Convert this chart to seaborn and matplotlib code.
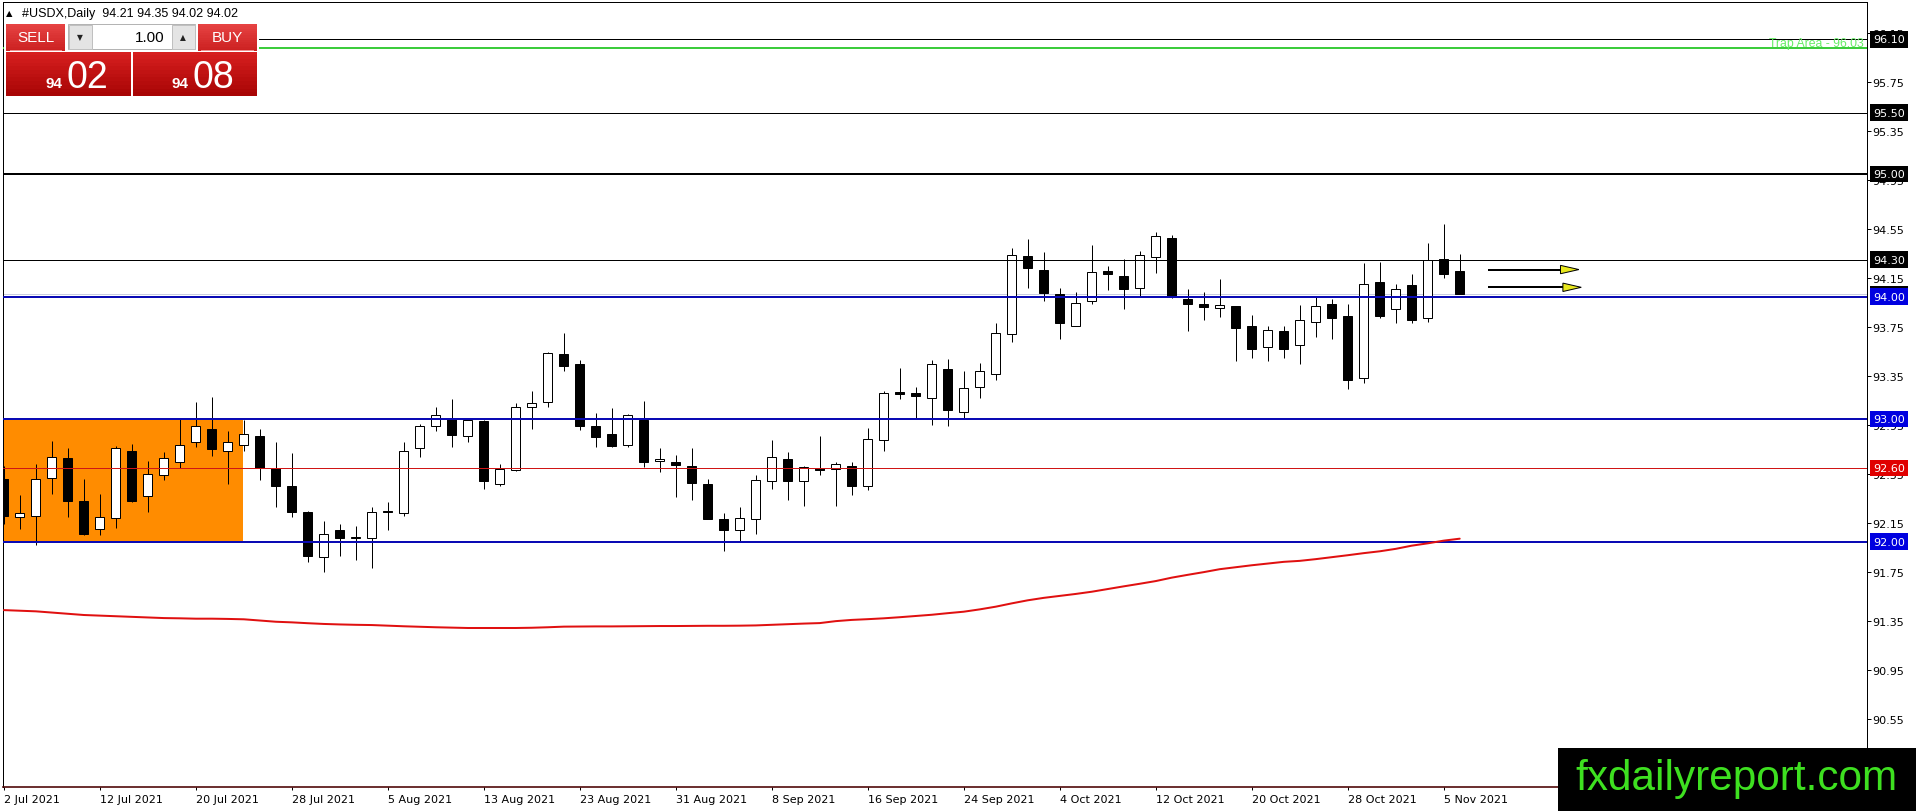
import numpy as np
import pandas as pd
import seaborn as sns
import matplotlib.pyplot as plt
from matplotlib.patches import Rectangle, Polygon
from matplotlib.transforms import blended_transform_factory

W, H = 1916, 812

# daily candles, 2 Jul 2021 .. 8 Nov 2021 (one per trading day)
opens = [92.51, 92.20, 92.21, 92.52, 92.68, 92.33, 92.10, 92.19, 92.74, 92.37,
         92.54, 92.65, 92.81, 92.92, 92.74, 92.79, 92.86, 92.60, 92.45, 92.24,
         91.87, 92.09, 92.03, 92.03, 92.245, 92.23, 92.76, 92.94, 93.01, 92.86,
         92.98, 92.47, 92.58, 93.095, 93.136, 93.53, 93.45, 92.94, 92.875, 92.79,
         92.99, 92.66, 92.65, 92.615, 92.47, 92.18, 92.095, 92.18, 92.49, 92.675,
         92.495, 92.60, 92.59, 92.615, 92.45, 92.825, 93.22, 93.215, 93.175, 93.405,
         93.055, 93.26, 93.365, 93.69, 94.33, 94.215, 94.02, 93.76, 93.96, 94.205,
         94.165, 94.07, 94.325, 94.48, 93.98, 93.94, 93.905, 93.92, 93.76, 93.585,
         93.715, 93.605, 93.79, 93.935, 93.84, 93.335, 94.12, 93.895, 94.095, 93.825,
         94.305, 94.21]
highs = [92.62, 92.38, 92.63, 92.82, 92.76, 92.51, 92.39, 92.78, 92.80, 92.66,
         92.73, 93.00, 93.14, 93.18, 92.90, 92.99, 92.92, 92.81, 92.72, 92.25,
         92.17, 92.14, 92.13, 92.28, 92.325, 92.81, 92.96, 93.10, 93.16, 93.00,
         92.99, 92.63, 93.13, 93.23, 93.545, 93.70, 93.48, 93.05, 93.09, 93.04,
         93.15, 92.76, 92.71, 92.76, 92.51, 92.23, 92.28, 92.54, 92.83, 92.73,
         92.615, 92.86, 92.65, 92.65, 92.93, 93.225, 93.415, 93.26, 93.48, 93.49,
         93.39, 93.455, 93.78, 94.40, 94.47, 94.36, 94.07, 94.035, 94.42, 94.25,
         94.305, 94.375, 94.53, 94.50, 94.06, 94.035, 94.145, 93.925, 93.85, 93.76,
         93.76, 93.93, 93.995, 93.98, 93.94, 94.275, 94.28, 94.10, 94.185, 94.435,
         94.59, 94.35]
lows = [92.14, 92.10, 91.97, 92.39, 92.20, 92.05, 92.05, 92.11, 92.32, 92.24,
        92.50, 92.60, 92.77, 92.70, 92.47, 92.74, 92.50, 92.28, 92.20, 91.83,
        91.75, 91.88, 91.85, 91.78, 92.09, 92.21, 92.69, 92.90, 92.77, 92.815,
        92.43, 92.45, 92.575, 92.92, 93.10, 93.39, 92.91, 92.775, 92.775, 92.77,
        92.605, 92.565, 92.365, 92.34, 92.18, 91.92, 92.00, 92.06, 92.43, 92.34,
        92.29, 92.54, 92.29, 92.38, 92.42, 92.735, 93.165, 93.00, 92.955, 92.945,
        93.005, 93.175, 93.32, 93.63, 94.07, 93.96, 93.65, 93.76, 93.935, 94.05,
        93.90, 94.00, 94.19, 93.985, 93.72, 93.81, 93.83, 93.47, 93.50, 93.47,
        93.50, 93.445, 93.67, 93.655, 93.245, 93.29, 93.825, 93.785, 93.785, 93.795,
        94.155, 94.02]
closes = [92.21, 92.23, 92.51, 92.69, 92.33, 92.06, 92.20, 92.76, 92.33, 92.55,
          92.68, 92.79, 92.94, 92.755, 92.81, 92.88, 92.60, 92.455, 92.24, 91.88,
          92.06, 92.03, 92.035, 92.24, 92.24, 92.74, 92.945, 93.03, 92.87, 92.99,
          92.49, 92.59, 93.10, 93.13, 93.54, 93.43, 92.945, 92.85, 92.78, 93.03,
          92.645, 92.67, 92.625, 92.475, 92.185, 92.09, 92.19, 92.50, 92.69, 92.49,
          92.605, 92.58, 92.63, 92.455, 92.84, 93.215, 93.205, 93.185, 93.445, 93.07,
          93.25, 93.39, 93.70, 94.34, 94.23, 94.03, 93.78, 93.945, 94.20, 94.18,
          94.065, 94.34, 94.49, 94.00, 93.94, 93.915, 93.93, 93.745, 93.57, 93.725,
          93.57, 93.81, 93.92, 93.825, 93.32, 94.10, 93.84, 94.065, 93.81, 94.30,
          94.185, 94.02]

# moving average (red curve), one value per candle
ma_values = [91.44, 91.435, 91.43, 91.42, 91.41, 91.40, 91.395, 91.39, 91.385, 91.38,
             91.375, 91.373, 91.37, 91.37, 91.368, 91.365, 91.355, 91.345, 91.34, 91.333,
             91.327, 91.323, 91.32, 91.318, 91.313, 91.308, 91.304, 91.30, 91.297, 91.294,
             91.294, 91.294, 91.294, 91.296, 91.30, 91.305, 91.306, 91.307, 91.307, 91.308,
             91.309, 91.31, 91.31, 91.311, 91.312, 91.312, 91.313, 91.315, 91.32, 91.325,
             91.33, 91.334, 91.35, 91.36, 91.366, 91.373, 91.382, 91.392, 91.402, 91.415,
             91.427, 91.446, 91.468, 91.495, 91.52, 91.54, 91.556, 91.572, 91.59, 91.612,
             91.634, 91.655, 91.677, 91.705, 91.728, 91.75, 91.774, 91.79, 91.806, 91.82,
             91.834, 91.842, 91.856, 91.872, 91.888, 91.905, 91.92, 91.94, 91.966, 91.985,
             92.007, 92.023]

date_labels = ['2 Jul 2021', '12 Jul 2021', '20 Jul 2021', '28 Jul 2021', '5 Aug 2021',
               '13 Aug 2021', '23 Aug 2021', '31 Aug 2021', '8 Sep 2021', '16 Sep 2021',
               '24 Sep 2021', '4 Oct 2021', '12 Oct 2021', '20 Oct 2021', '28 Oct 2021',
               '5 Nov 2021']
price_ticks = [96.15, 95.75, 95.35, 94.95, 94.55, 94.15, 93.75, 93.35, 92.95,
               92.55, 92.15, 91.75, 91.35, 90.95, 90.55]

black_levels = [96.10, 95.50, 95.00, 94.30]
blue_levels = [94.00, 93.00, 92.00]
red_level = 92.60
trap_level = 96.03
bid_price = 94.02
zone_low, zone_high = 92.00, 93.00
arrow_prices = [94.22, 94.075]

header = '#USDX,Daily  94.21 94.35 94.02 94.02'
sell_big, buy_big = '02', '08'
lot = '1.00'

# ---------------------------------------------------------------
sns.set_theme(style='white')
plt.rcParams['font.family'] = ['DejaVu Sans']

fig = plt.figure(figsize=(W / 100, H / 100), dpi=100)
fig.patch.set_facecolor('white')

ax_l, ax_r, ax_t, ax_b = 2.7, 1867.0, 2.7, 788.0
ax = fig.add_axes([ax_l / W, 1 - ax_b / H, (ax_r - ax_l) / W, (ax_b - ax_t) / H])
ax.set_facecolor('white')

px = 0.72  # one pixel in points
n = len(opens)
bars = np.arange(n)
bw = 0.5625

# orange zone (background object)
ax.add_patch(Rectangle((-5, zone_low), 5 + 14.97, zone_high - zone_low,
                       facecolor='#ff8c00', edgecolor='none', zorder=1))

# candles
ax.vlines(bars, lows, highs, color='black', lw=px, zorder=3)
for i in range(n):
    o, c = opens[i], closes[i]
    bottom = min(o, c)
    height = max(abs(c - o), 0.006)
    ax.add_patch(Rectangle((i - bw / 2, bottom), bw, height,
                           facecolor='white' if c >= o else 'black',
                           edgecolor='black', lw=px, zorder=4))

# horizontal levels
ax.axhline(bid_price, color='#c8cde0', lw=px, zorder=2)
for lv in black_levels:
    ax.axhline(lv, color='black', lw=2 * px if lv == 95.00 else px, zorder=5)
for lv in blue_levels:
    ax.axhline(lv, color='#0a0ab4', lw=2 * px, zorder=5)
ax.axhline(red_level, color='#d01515', lw=px, zorder=5)
ax.axhline(trap_level, color='#3ccc3c', lw=2 * px, zorder=5)

# moving average
df_ma = pd.DataFrame({'bar': bars, 'ma': ma_values})
sns.lineplot(data=df_ma, x='bar', y='ma', ax=ax, color='#e01010', lw=2 * px, zorder=6)

# arrows
for k, p in enumerate(arrow_prices):
    base = 97.3 + 0.15 * k
    ax.plot([92.75, base], [p, p], color='black', lw=2 * px, zorder=7, solid_capstyle='butt')
    hh = 4.2 / 122.5
    ax.add_patch(Polygon([[base, p - hh], [base, p + hh], [base + 1.15, p]],
                         closed=True, facecolor='#e8e81e', edgecolor='black',
                         lw=px, zorder=8))

# trap area text
trans_ay = blended_transform_factory(ax.transAxes, ax.transData)
ax.text((1864 - ax_l) / (ax_r - ax_l), trap_level + 2.3 / 122.5, 'Trap Area - 96.03',
        transform=trans_ay, ha='right', va='baseline', color='#66ee66',
        fontsize=8.8, family=['Liberation Sans', 'DejaVu Sans'], zorder=9)

ax.set_xlim(-0.075, 116.46)
ax.set_ylim(89.996, 96.4065)
ax.set_xlabel('')
ax.set_ylabel('')
ax.grid(False)

# axes ticks
ax.set_xticks(np.arange(0, 6 * len(date_labels), 6))
ax.set_xticklabels(date_labels, ha='left')
ax.yaxis.tick_right()
ax.set_yticks(price_ticks)
ax.set_yticklabels([f'{t:.2f}' for t in price_ticks])
ax.tick_params(axis='x', direction='out', length=3 * px, width=px, pad=3,
               labelsize=8, colors='black', bottom=True)
ax.tick_params(axis='y', direction='out', length=3.5 * px, width=px, pad=1.6,
               labelsize=8, colors='black', right=True, left=False)
for sp in ax.spines.values():
    sp.set_color('black')
    sp.set_linewidth(px)
ax.spines['bottom'].set_color('#4a0000')
ax.spines['bottom'].set_linewidth(1.6 * px)

# price labels with boxes on the right axis
lab_x = (1873 - ax_l) / (ax_r - ax_l)
box_levels = [(bid_price, 'black')] + [(lv, 'black') for lv in black_levels] + \
             [(lv, '#0000e0') for lv in blue_levels] + [(red_level, '#e00000')]
for lv, col in box_levels:
    ax.text(lab_x, lv, f'{lv:.2f}', transform=trans_ay, ha='left', va='center',
            color='white', fontsize=8, clip_on=False, zorder=10,
            bbox=dict(boxstyle='square,pad=0.3', facecolor=col, edgecolor='none'))


# ---------------------------------------------------------------
# one-click trading panel and header (figure pixel coordinates)
def fig_rect(x0, y0, x1, y1, **kw):
    fig.add_artist(Rectangle((x0 / W, 1 - y1 / H), (x1 - x0) / W, (y1 - y0) / H,
                             transform=fig.transFigure, **kw))


def fig_grad(x0, y0, x1, y1, top, bottom, steps=12):
    c0, c1 = np.array(top), np.array(bottom)
    hstep = (y1 - y0) / steps
    for s in range(steps):
        col = c0 + (c1 - c0) * s / (steps - 1)
        fig_rect(x0, y0 + s * hstep, x1, y0 + (s + 1) * hstep + 0.3,
                 facecolor=col, edgecolor='none')


def fig_text(x, y, s, **kw):
    fig.text(x / W, 1 - y / H, s, **kw)


fig_text(9, 13.5, '▲', fontsize=6, ha='center', va='center', color='black')
fig_text(21.5, 13.5, header, fontsize=9, ha='left', va='center', color='black',
         family=['Liberation Sans', 'DejaVu Sans'])

fig_rect(3.5, 22, 258.5, 98, facecolor='white', edgecolor='none')
top_red, bot_red = (0.90, 0.26, 0.26), (0.80, 0.13, 0.13)
fig_grad(6, 25, 65, 52, top_red, bot_red)
fig_grad(198, 25, 257, 52, top_red, bot_red)
fig_rect(10, 51.3, 62, 52, facecolor='#f09090', edgecolor='none')
fig_rect(201, 51.3, 254, 52, facecolor='#f09090', edgecolor='none')
fig_grad(6, 52.5, 131, 97, (0.84, 0.12, 0.12), (0.66, 0.02, 0.02))
fig_grad(133, 52.5, 257, 97, (0.84, 0.12, 0.12), (0.66, 0.02, 0.02))

# lot spinner
fig_rect(68, 25, 195, 50, facecolor='white', edgecolor='#b4b4b4', lw=px)
fig_rect(68.5, 25.5, 92, 49.5, facecolor='#e4e4e4', edgecolor='#c0c0c0', lw=px)
fig_rect(171.5, 25.5, 194.5, 49.5, facecolor='#e4e4e4', edgecolor='#c0c0c0', lw=px)
fig_text(80, 38, '▼', fontsize=5.5, ha='center', va='center', color='#222222')
fig_text(183, 37.5, '▲', fontsize=5.5, ha='center', va='center', color='#222222')
fig_text(165, 37.5, lot, fontsize=11, ha='right', va='center', color='black',
         family=['Liberation Sans', 'DejaVu Sans'])

btn_font = dict(color='white', family=['Liberation Sans', 'DejaVu Sans'])
fig_text(35.5, 38.5, 'SELL', fontsize=11, ha='center', va='center', **btn_font)
fig_text(227.5, 38.5, 'BUY', fontsize=11, ha='center', va='center', **btn_font)
fig_text(63, 88, '94', fontsize=11, ha='right', va='baseline', fontweight='bold', **btn_font)
fig_text(66, 88, sell_big, fontsize=27, ha='left', va='baseline', **btn_font)
fig_text(188, 88, '94', fontsize=11, ha='right', va='baseline', fontweight='bold', **btn_font)
fig_text(192, 88, buy_big, fontsize=27, ha='left', va='baseline', **btn_font)

# watermark
fig_rect(1557.7, 749, 1920, 815, facecolor='black', edgecolor='none')
fig_text(1575, 790, 'fxdailyreport.com', fontsize=30.4, ha='left', va='baseline',
         color='#3ee020', family=['Liberation Sans', 'DejaVu Sans'])

fig.savefig('out.png', dpi=100, facecolor='white')
